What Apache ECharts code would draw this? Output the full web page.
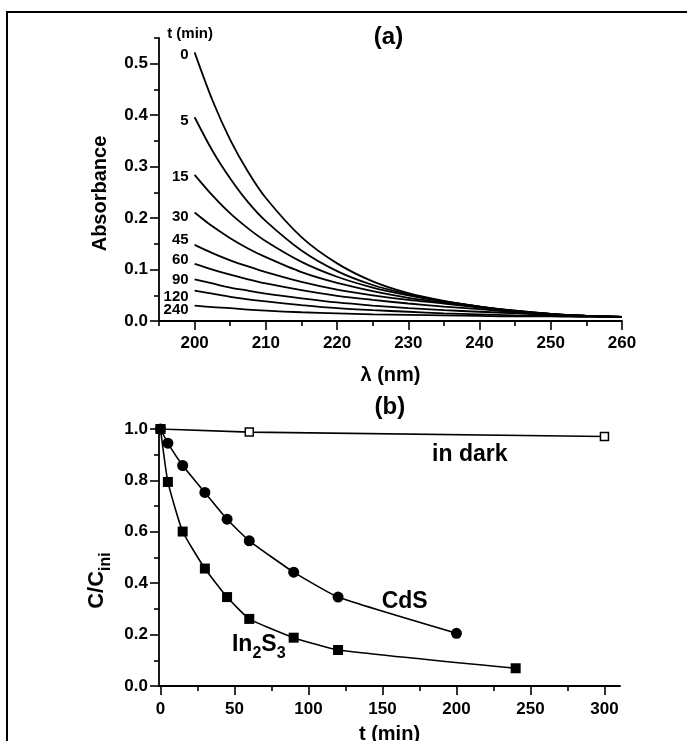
<!DOCTYPE html>
<html><head><meta charset="utf-8">
<script src="https://cdn.jsdelivr.net/npm/echarts@6/dist/echarts.min.js"></script>
<style>html,body{margin:0;padding:0;background:#fff}#c{width:687px;height:741px}</style>
</head><body><div id="c"></div>
<script>
// ---------- Panel (a) data ----------
const wavelengths = [200,202.5,205,207.5,210,215,220,225,230,235,240,245,250,255,260];
const timesA = ['0','5','15','30','45','60','90','120','240'];
const abs0   = [0.522,0.429,0.352,0.290,0.239,0.163,0.112,0.077,0.054,0.039,0.028,0.019,0.013,0.010,0.008];
const abs5   = [0.396,0.331,0.277,0.231,0.194,0.137,0.097,0.070,0.052,0.038,0.028,0.019,0.013,0.010,0.008];
const abs15  = [0.284,0.244,0.209,0.180,0.155,0.115,0.086,0.065,0.050,0.038,0.028,0.020,0.014,0.010,0.008];
const abs30  = [0.211,0.184,0.161,0.141,0.124,0.095,0.074,0.058,0.045,0.036,0.027,0.020,0.014,0.010,0.008];
const abs45  = [0.148,0.132,0.118,0.106,0.095,0.076,0.061,0.050,0.041,0.034,0.026,0.019,0.014,0.010,0.008];
const abs60  = [0.111,0.100,0.090,0.081,0.073,0.060,0.049,0.041,0.034,0.028,0.023,0.017,0.013,0.010,0.008];
const abs90  = [0.081,0.073,0.065,0.059,0.053,0.044,0.036,0.030,0.025,0.021,0.018,0.015,0.012,0.010,0.008];
const abs120 = [0.059,0.053,0.047,0.042,0.038,0.031,0.025,0.021,0.018,0.015,0.013,0.011,0.010,0.009,0.008];
const abs240 = [0.030,0.027,0.025,0.022,0.020,0.017,0.015,0.013,0.012,0.011,0.010,0.009,0.009,0.008,0.008];
const absCurves = [abs0,abs5,abs15,abs30,abs45,abs60,abs90,abs120,abs240];
const absLabelY = [0.517,0.388,0.281,0.203,0.158,0.119,0.080,0.047,0.021];
const xTicksA = [200,210,220,230,240,250,260];
const xMinorA = [195,205,215,225,235,245,255];
const yTicksA = [0,0.1,0.2,0.3,0.4,0.5];
const yMinorA = [0.05,0.15,0.25,0.35,0.45,0.55];

// ---------- Panel (b) data ----------
const tDark  = [0,60,300];
const cDark  = [1.0,0.988,0.971];
const tCdS   = [0,5,15,30,45,60,90,120,200];
const cCdS   = [1.0,0.945,0.858,0.753,0.649,0.565,0.443,0.346,0.205];
const tIn2S3 = [0,5,15,30,45,60,90,120,240];
const cIn2S3 = [1.0,0.794,0.601,0.457,0.346,0.261,0.188,0.140,0.069];
const xTicksB = [0,50,100,150,200,250,300];
const xMinorB = [25,75,125,175,225,275];
const yTicksB = [0,0.2,0.4,0.6,0.8,1.0];
const yMinorB = [0.1,0.3,0.5,0.7,0.9];

const FF = "'Liberation Sans', Arial, sans-serif";
const BLK = '#000';
const zip = (xs, ys) => xs.map((x,i)=>[x, ys[i]]);

function mainAxis(gridIndex, min, max, majors, fmt, margin, extra) {
  return Object.assign({
    type:'value', gridIndex, min, max, splitLine:{show:false},
    axisLine:{show:true, onZero:false, lineStyle:{color:BLK,width:1.8}},
    axisTick:{show:true, customValues:majors, length:9, inside:false, lineStyle:{color:BLK,width:1.6}},
    axisLabel:{show:true, customValues:majors, formatter:fmt, color:BLK, fontFamily:FF, fontWeight:'bold', fontSize:17, margin}
  }, extra||{});
}
function minorAxis(gridIndex, min, max, minors, extra) {
  return Object.assign({
    type:'value', gridIndex, min, max, splitLine:{show:false},
    axisLine:{show:false, onZero:false},
    axisTick:{show:true, customValues:minors, length:5, lineStyle:{color:BLK,width:1.6}},
    axisLabel:{show:false}
  }, extra||{});
}
const titleStyle = {color:BLK,fontFamily:FF,fontWeight:'bold',fontSize:20};

const chart = echarts.init(document.getElementById('c'), null, {renderer:'canvas'});

const series = [];
absCurves.forEach((arr,i)=>{
  series.push({type:'line', name:'t'+timesA[i], xAxisIndex:0, yAxisIndex:0, data:zip(wavelengths,arr),
    showSymbol:false, smooth:0.3, lineStyle:{color:BLK,width:1.8}, silent:true, z:3});
});
series.push({type:'line', name:'in dark', xAxisIndex:2, yAxisIndex:2, data:zip(tDark,cDark),
  symbol:'rect', symbolSize:8, showAllSymbol:true, itemStyle:{color:'#fff', borderColor:BLK, borderWidth:1.5},
  lineStyle:{color:BLK,width:1.6}, z:3});
series.push({type:'line', name:'CdS', xAxisIndex:2, yAxisIndex:2, data:zip(tCdS,cCdS),
  symbol:'circle', symbolSize:11, showAllSymbol:true, smooth:0.15, itemStyle:{color:BLK},
  lineStyle:{color:BLK,width:1.6}, z:4});
series.push({type:'line', name:'In2S3', xAxisIndex:2, yAxisIndex:2, data:zip(tIn2S3,cIn2S3),
  symbol:'rect', symbolSize:10, showAllSymbol:true, smooth:0.15, itemStyle:{color:BLK},
  lineStyle:{color:BLK,width:1.6}, z:5});

chart.setOption({
  animation:false,
  backgroundColor:'#fff',
  grid:[
    {left:159, top:38, width:463, height:283, outerBoundsMode:'none', containLabel:false},
    {left:159, top:429, width:461, height:257, outerBoundsMode:'none', containLabel:false}
  ],
  xAxis:[
    mainAxis(0,195,260,xTicksA,v=>String(v),14,{position:'bottom', name:'λ (nm)', nameLocation:'middle', nameGap:44,
      nameTextStyle:titleStyle}),
    minorAxis(0,195,260,xMinorA,{position:'bottom'}),
    mainAxis(1,-1,310.5,xTicksB,v=>String(v),15,{position:'bottom', name:'t (min)', nameLocation:'middle', nameGap:38,
      nameTextStyle:titleStyle}),
    minorAxis(1,-1,310.5,xMinorB,{position:'bottom'})
  ],
  yAxis:[
    mainAxis(0,0,0.55,yTicksA,v=>v.toFixed(1),11,{position:'left', name:'Absorbance', nameLocation:'middle', nameGap:49, nameRotate:90,
      nameTextStyle:Object.assign({padding:[0,28,0,0]}, titleStyle)}),
    minorAxis(0,0,0.55,yMinorA,{position:'left'}),
    mainAxis(1,0,1.0,yTicksB,v=>v.toFixed(1),11,{position:'left', name:'{a|C/C}{s|ini}', nameLocation:'middle', nameGap:48, nameRotate:90,
      nameTextStyle:{color:BLK, padding:[0,46,0,0], rich:{
        a:{fontFamily:FF,fontWeight:'bold',fontSize:22,color:BLK,lineHeight:24,verticalAlign:'top'},
        s:{fontFamily:FF,fontWeight:'bold',fontSize:16,color:BLK,lineHeight:16,verticalAlign:'top',padding:[12,0,0,0]}
      }}}),
    minorAxis(1,0,1.0,yMinorB,{position:'left'})
  ],
  series
});

// ---------- annotations anchored to data coordinates ----------
const pA = (x,y)=>chart.convertToPixel({seriesIndex:0},[x,y]);
const pB = (x,y)=>chart.convertToPixel({seriesIndex:9},[x,y]);
const txt = (x,y,text,size,align) => ({type:'text', x, y, silent:true, z:10,
  style:{text, fill:BLK, font:'bold '+size+'px '+FF, align:align||'center', verticalAlign:'middle'}});

const g = [];
g.push({type:'rect', shape:{x:7,y:12,width:720,height:800}, style:{fill:null, stroke:BLK, lineWidth:2}, silent:true, z:0});
const x200 = pA(200,0)[0];
timesA.forEach((t,i)=>{
  const p = pA(200, absLabelY[i]);
  g.push(txt(x200-6, p[1], t, 15, 'right'));
});
const pt = pA(199.5, 0.558);
g.push(txt(pt[0]-1, 34, 't (min)', 15, 'center'));
g.push(txt(pA(227.5,0)[0]-2, 37, '(a)', 24, 'center'));
g.push(txt(pB(155,0)[0], 407, '(b)', 24, 'center'));
let q = pB(209, 0.899); g.push(txt(q[0], q[1], 'in dark', 23, 'center'));
q = pB(165, 0.328); g.push(txt(q[0], q[1], 'CdS', 23, 'center'));
q = pB(66.4, 0.16);
g.push({type:'text', x:q[0], y:q[1], silent:true, z:10, style:{
  text:'{a|In}{s|2}{a|S}{s|3}', align:'center', verticalAlign:'middle', fill:BLK,
  rich:{
    a:{font:'bold 23px '+FF, fill:BLK, lineHeight:24, verticalAlign:'top'},
    s:{font:'bold 16px '+FF, fill:BLK, lineHeight:16, verticalAlign:'top', padding:[13,0,0,0]}
  }}});
chart.setOption({graphic:g});
</script>
</body></html>
